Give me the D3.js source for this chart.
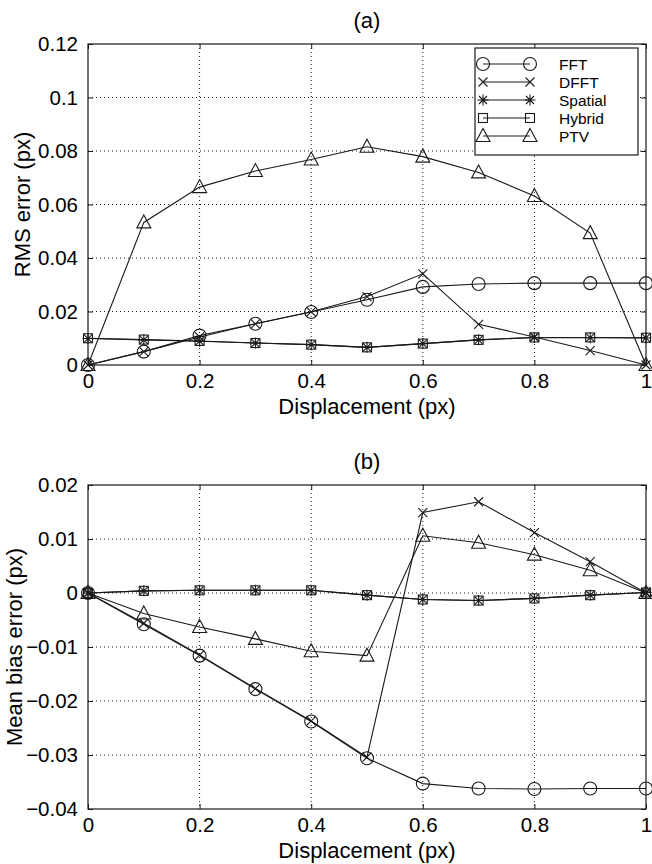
<!DOCTYPE html>
<html>
<head>
<meta charset="utf-8">
<script src="https://cdn.jsdelivr.net/npm/d3@7"></script>
<style>
  body { margin: 0; background: #fff; }
  svg { display: block; font-family: "Liberation Sans", Arial, sans-serif; }
</style>
</head>
<body>
<div id="chart"></div>
<script>
// displacement values (px), shared by both panels
const displacement = [0, 0.1, 0.2, 0.3, 0.4, 0.5, 0.6, 0.7, 0.8, 0.9, 1]

const seriesNames = ['FFT', 'DFFT', 'Spatial', 'Hybrid', 'PTV']
const seriesMarkers = ['circle', 'x', 'star', 'square', 'triangle']

// (a) RMS error
const rmsFFT     = [0, 0.0050, 0.0110, 0.0154, 0.0198, 0.0244, 0.0292, 0.0303, 0.0306, 0.0306, 0.0306]
const rmsDFFT    = [0, 0.0050, 0.0105, 0.0154, 0.0199, 0.0256, 0.0341, 0.0152, 0.0105, 0.0054, 0]
const rmsSpatial = [0.0099, 0.0094, 0.0089, 0.0082, 0.0076, 0.0066, 0.0080, 0.0094, 0.0103, 0.0102, 0.0101]
const rmsHybrid  = [0.0100, 0.0095, 0.0090, 0.0082, 0.0076, 0.0066, 0.0080, 0.0094, 0.0103, 0.0103, 0.0102]
const rmsPTV     = [0, 0.0533, 0.0665, 0.0725, 0.0768, 0.0816, 0.0779, 0.0720, 0.0632, 0.0493, 0]

// (b) mean bias error
const biasFFT     = [0, -0.0058, -0.0116, -0.0178, -0.0238, -0.0306, -0.0353, -0.0362, -0.0363, -0.0362, -0.0362]
const biasDFFT    = [0, -0.0056, -0.0115, -0.0177, -0.0237, -0.0304, 0.0149, 0.0169, 0.0112, 0.0058, 0]
const biasSpatial = [0, 0.0004, 0.0005, 0.0005, 0.0005, -0.0004, -0.0012, -0.0014, -0.0010, -0.0004, 0.0001]
const biasHybrid  = [0, 0.0004, 0.0005, 0.0005, 0.0005, -0.0004, -0.0012, -0.0014, -0.0010, -0.0004, 0.0001]
const biasPTV     = [0, -0.0038, -0.0063, -0.0085, -0.0108, -0.0116, 0.0106, 0.0093, 0.0071, 0.0042, 0]

const xTicks = [0, 0.2, 0.4, 0.6, 0.8, 1]
const rmsTicks = [0, 0.02, 0.04, 0.06, 0.08, 0.1, 0.12]
const biasTicks = [-0.04, -0.03, -0.02, -0.01, 0, 0.01, 0.02]

const width = 652, height = 864
const ink = '#1a1a1a'

const svg = d3.select('#chart').append('svg')
    .attr('width', width)
    .attr('height', height)

// marker shapes, drawn around (0,0)
const drawMarker = (g, type) => {
    if (type == 'circle') {
        g.append('circle').attr('r', 6.5)
    } else if (type == 'x') {
        g.append('path').attr('d', 'M-4.5,-4.5L4.5,4.5M-4.5,4.5L4.5,-4.5')
    } else if (type == 'star') {
        g.append('path').attr('d', 'M-4,-4L4,4M-4,4L4,-4M0,-5.5L0,5.5M-5.5,0L5.5,0')
    } else if (type == 'square') {
        g.append('rect').attr('x', -4.5).attr('y', -4.5).attr('width', 9).attr('height', 9)
    } else if (type == 'triangle') {
        g.append('path').attr('d', 'M0,-7.5L7,5.5L-7,5.5Z')
    }
}

const fmt = v => {
    let s = d3.format('~g')(v)
    return s.replace('-', '\u2212')
}

const makePanel = (p) => {
    let x = d3.scaleLinear().domain([0, 1]).range([88, 646])
    let y = d3.scaleLinear().domain(p.domain).range([p.bottom, p.top])
    let g = svg.append('g')

    // dotted grid
    g.selectAll('.gx').data(xTicks.slice(1, -1)).enter().append('line')
        .attr('x1', d => x(d)).attr('x2', d => x(d))
        .attr('y1', p.top).attr('y2', p.bottom)
        .attr('stroke', ink).attr('stroke-width', 1)
        .attr('stroke-dasharray', '1,3')
    g.selectAll('.gy').data(p.ticks.slice(1, -1)).enter().append('line')
        .attr('y1', d => y(d)).attr('y2', d => y(d))
        .attr('x1', 88).attr('x2', 646)
        .attr('stroke', ink).attr('stroke-width', 1)
        .attr('stroke-dasharray', '1,3')

    // axes with inward ticks on all four sides
    let bottomAxis = d3.axisBottom(x).tickValues(xTicks).tickSizeInner(-5).tickSizeOuter(0).tickPadding(8).tickFormat(fmt)
    let topAxis = d3.axisTop(x).tickValues(xTicks).tickSizeInner(-5).tickSizeOuter(0).tickFormat('')
    let leftAxis = d3.axisLeft(y).tickValues(p.ticks).tickSizeInner(-5).tickSizeOuter(0).tickPadding(10).tickFormat(fmt)
    let rightAxis = d3.axisRight(y).tickValues(p.ticks).tickSizeInner(-5).tickSizeOuter(0).tickFormat('')

    g.append('g').attr('transform', `translate(0,${p.bottom})`).call(bottomAxis)
    g.append('g').attr('transform', `translate(0,${p.top})`).call(topAxis)
    g.append('g').attr('transform', `translate(88,0)`).call(leftAxis)
    g.append('g').attr('transform', `translate(646,0)`).call(rightAxis)
    g.selectAll('.domain').remove()
    g.selectAll('.tick line').attr('stroke', ink)
    g.selectAll('.tick text')
        .attr('font-size', 20.5)
        .attr('fill', '#000')
        .attr('font-family', '"Liberation Sans", Arial, sans-serif')

    g.append('rect')
        .attr('x', 88).attr('y', p.top)
        .attr('width', 646 - 88).attr('height', p.bottom - p.top)
        .attr('fill', 'none').attr('stroke', ink).attr('stroke-width', 1.2)

    // series: line then markers, in legend order
    let line = d3.line().x((d, i) => x(displacement[i])).y(d => y(d))
    p.series.forEach((s, k) => {
        g.append('path')
            .attr('d', line(s))
            .attr('fill', 'none')
            .attr('stroke', ink)
            .attr('stroke-width', 1.1)
        s.forEach((v, i) => {
            let m = g.append('g')
                .attr('transform', `translate(${x(displacement[i])},${y(v)})`)
                .attr('fill', 'none').attr('stroke', ink).attr('stroke-width', 1.1)
            drawMarker(m, seriesMarkers[k])
        })
    })

    // titles
    g.append('text')
        .attr('x', 367).attr('y', p.top - 24)
        .attr('text-anchor', 'middle').attr('dominant-baseline', 'central')
        .attr('font-size', 22)
        .text(p.title)
    g.append('text')
        .attr('x', 367).attr('y', p.bottom + 41)
        .attr('text-anchor', 'middle').attr('dominant-baseline', 'central')
        .attr('font-size', 22)
        .text('Displacement (px)')
    g.append('text')
        .attr('transform', `translate(${p.ylabelX},${(p.top + p.bottom) / 2}) rotate(-90)`)
        .attr('text-anchor', 'middle').attr('dominant-baseline', 'central')
        .attr('font-size', 22)
        .text(p.ylabel)

    if (p.legend) {
        let lg = g.append('g')
        lg.append('rect')
            .attr('x', 475).attr('y', 48)
            .attr('width', 163).attr('height', 107)
            .attr('fill', '#fff').attr('stroke', ink).attr('stroke-width', 1.2)
        seriesNames.forEach((name, k) => {
            let yy = 64 + k * 18
            lg.append('line')
                .attr('x1', 483).attr('x2', 530)
                .attr('y1', yy).attr('y2', yy)
                .attr('stroke', ink).attr('stroke-width', 1.1)
            ;[483, 530].forEach(xx => {
                let m = lg.append('g')
                    .attr('transform', `translate(${xx},${yy})`)
                    .attr('fill', 'none').attr('stroke', ink).attr('stroke-width', 1.1)
                drawMarker(m, seriesMarkers[k])
            })
            lg.append('text')
                .attr('x', 559).attr('y', yy)
                .attr('dominant-baseline', 'central')
                .attr('font-size', 15.5)
                .text(name)
        })
    }
}

makePanel({
    top: 44, bottom: 365,
    domain: [0, 0.12], ticks: rmsTicks,
    series: [rmsFFT, rmsDFFT, rmsSpatial, rmsHybrid, rmsPTV],
    title: '(a)', ylabel: 'RMS error (px)', ylabelX: 22,
    legend: true
})

makePanel({
    top: 485, bottom: 809,
    domain: [-0.04, 0.02], ticks: biasTicks,
    series: [biasFFT, biasDFFT, biasSpatial, biasHybrid, biasPTV],
    title: '(b)', ylabel: 'Mean bias error (px)', ylabelX: 14,
    legend: false
})
</script>
</body>
</html>
